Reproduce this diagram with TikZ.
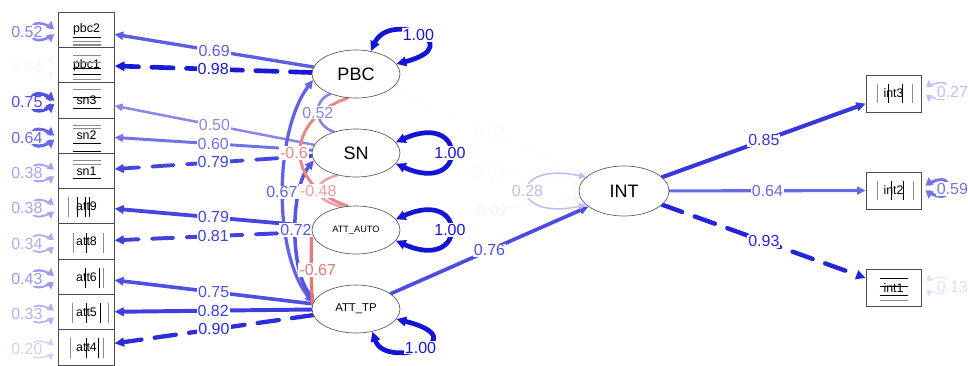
\documentclass[tikz,border=0pt]{standalone}
\usepackage{fontspec}
\setmainfont{Liberation Sans}
\usetikzlibrary{arrows.meta,shapes.geometric}
\pgfdeclarelayer{edges}
\pgfdeclarelayer{labels}
\pgfsetlayers{edges,labels,main}
\definecolor{posbase}{RGB}{20,20,215}
\definecolor{negbase}{RGB}{215,55,55}
\definecolor{thrgray}{RGB}{140,140,140}
\tikzset{
  lat/.style={ellipse, draw=black!65, fill=white, line width=0.5pt,
    minimum width=66pt, minimum height=36pt, inner sep=0pt},
  man/.style={rectangle, draw=black!70, fill=white, line width=0.6pt,
    minimum width=41.6pt, minimum height=26.5pt, inner sep=0pt,
    font=\fontsize{9.3}{9.3}\selectfont},
  pe/.style={draw=posbase!#1!white, line width={#1*0.033pt+0.25pt}, line cap=round},
  ne/.style={draw=negbase!#1!white, line width={#1*0.033pt+0.25pt}, line cap=round},
  onearrow/.style={-{Triangle[length=4.2pt 0.9, width=3.8pt 0.9]}},
  twoarrow/.style={{Triangle[length=4.2pt 0.9, width=3.8pt 0.9]}-{Triangle[length=4.2pt 0.9, width=3.8pt 0.9]}},
  dsh/.style={dash pattern=on 16pt off 10pt},
  pl/.style={text=posbase!#1!white, fill=white, inner sep=0.8pt,
    font=\fontsize{12}{12}\selectfont},
  nl/.style={text=negbase!#1!white, fill=white, inner sep=0.8pt,
    font=\fontsize{12}{12}\selectfont},
  thr/.style={line width=0.7pt},
}
\begin{document}
\begin{tikzpicture}[x=0.75pt, y=-0.75pt]
\useasboundingbox (0,0) rectangle (968,365);

% observed indicators, left column
\node[man] (pbc2) at (86.5,29.7)  {pbc2};
\node[man] (pbc1) at (86.5,65.0)  {pbc1};
\node[man] (sn3)  at (86.5,100.3) {sn3};
\node[man] (sn2)  at (86.5,135.6) {sn2};
\node[man] (sn1)  at (86.5,170.9) {sn1};
\node[man] (att9) at (86.5,206.2) {att9};
\node[man] (att8) at (86.5,241.5) {att8};
\node[man] (att6) at (86.5,276.8) {att6};
\node[man] (att5) at (86.5,312.1) {att5};
\node[man] (att4) at (86.5,347.4) {att4};

% observed indicators, right column
\node[man, minimum width=41.25pt, minimum height=27.75pt] (int3) at (893.5,93.5)  {int3};
\node[man, minimum width=41.25pt, minimum height=27.75pt] (int2) at (893.5,190.5) {int2};
\node[man, minimum width=41.25pt, minimum height=27.75pt] (int1) at (893.5,288)   {int1};

% latent factors
\node[lat, font=\fontsize{13.5}{13.5}\selectfont] (PBC) at (356,74) {PBC};
\node[lat, font=\fontsize{13.5}{13.5}\selectfont] (SN)  at (356,153) {SN};
\node[lat, font=\fontsize{6.9}{6.9}\selectfont] (ATT_AUTO) at (356,230) {ATT\_AUTO};
\node[lat, font=\fontsize{8.5}{8.5}\selectfont] (ATT_TP) at (356,309) {ATT\_TP};
\node[lat, minimum width=67.5pt, minimum height=37.5pt, font=\fontsize{13.5}{13.5}\selectfont] (INT) at (624,191) {INT};

% threshold bars inside the indicator boxes (horizontal)
\foreach \n/\dy/\col in {pbc2/8/black, pbc2/12/thrgray, pbc2/14.3/thrgray, pbc2/16/thrgray,
  pbc1/-10/thrgray, pbc1/-2.3/thrgray, pbc1/3/black, pbc1/9/black, pbc1/14.3/thrgray,
  sn3/-11/thrgray, sn3/-3/black, sn3/8/black,
  sn2/-10.6/thrgray, sn2/-7.3/thrgray, sn2/7.7/black, sn2/15.5/black,
  sn1/-10/thrgray, sn1/-6/thrgray, sn1/8/black,
  int1/-9.7/black, int1/-1.3/black, int1/7/black, int1/12.7/thrgray}
  \draw[thr, \col] ([shift={(-14,\dy)}]\n.center) -- ([shift={(14,\dy)}]\n.center);

% threshold bars inside the indicator boxes (vertical)
\foreach \n/\dx/\col in {att9/-18/thrgray, att9/-9/black, att9/-1.5/black, att9/3/black,
  att8/-13.5/thrgray, att8/-0.5/black, att8/16.5/thrgray,
  att6/-1.5/black, att6/12.5/black, att6/16.8/thrgray,
  att5/-13.8/thrgray, att5/-0.5/black, att5/13.5/black, att5/21.8/thrgray,
  att4/-16.5/thrgray, att4/-0.5/black, att4/11.8/black, att4/16.8/thrgray}
  \draw[thr, \col] ([shift={(\dx,-9)}]\n.center) -- ([shift={(\dx,11)}]\n.center);
\foreach \n/\dx/\col in {int3/-16.5/thrgray, int3/-5.5/black, int3/8.5/black, int3/18.5/thrgray,
  int2/-16.5/thrgray, int2/-2.5/black, int2/9.5/black, int2/19.5/thrgray}
  \draw[thr, \col] ([shift={(\dx,-10)}]\n.center) -- ([shift={(\dx,9)}]\n.center);

\begin{pgfonlayer}{edges}
  % factor loadings
  \draw[pe=69, onearrow]      (PBC) -- coordinate (l1) (pbc2);
  \draw[pe=98, dsh, onearrow] (PBC) -- coordinate (l2) (pbc1);
  \draw[pe=50, onearrow]      (SN) -- coordinate (l3) (sn3);
  \draw[pe=60, onearrow]      (SN) -- coordinate (l4) (sn2);
  \draw[pe=79, dsh, onearrow] (SN) -- coordinate (l5) (sn1);
  \draw[pe=79, onearrow]      (ATT_AUTO) -- coordinate (l6) (att9);
  \draw[pe=81, dsh, onearrow] (ATT_AUTO) -- coordinate (l7) (att8);
  \draw[pe=75, onearrow]      (ATT_TP) -- coordinate (l8) (att6);
  \draw[pe=82, onearrow]      (ATT_TP) -- coordinate (l9) (att5);
  \draw[pe=90, dsh, onearrow] (ATT_TP) -- coordinate (l10) (att4);
  \draw[pe=85, onearrow]      (INT) -- coordinate (l11) (int3);
  \draw[pe=64, onearrow]      (INT) -- coordinate (l12) (int2);
  \draw[pe=93, dsh, onearrow] (INT) -- coordinate (l13) (int1);

  % structural paths
  \draw[pe=2, onearrow]  (PBC) -- coordinate (r1) (INT);
  \draw[pe=3, onearrow]  (SN) -- coordinate (r2) (INT);
  \draw[ne=7, onearrow]  (ATT_AUTO) -- coordinate (r3) (INT);
  \draw[pe=76, onearrow] (ATT_TP) -- coordinate (r4) (INT);

  % factor covariances
  \draw[pe=67, twoarrow] (PBC.188) .. controls (275,130) and (272,250) .. (ATT_TP.172) coordinate[pos=0.5] (k1);
  \draw[pe=72, twoarrow] (SN.190) .. controls (290,190) and (290,270) .. (ATT_TP.168) coordinate[pos=0.5] (k2);
  \draw[pe=52] (PBC.218) .. controls (313,100) and (313,125) .. (SN.136) coordinate[pos=0.5] (k3);
  \draw[ne=60] (PBC.251) .. controls (284,120) and (284,185) .. (ATT_AUTO.109) coordinate[pos=0.5] (k4);
  \draw[ne=48] (SN.230) .. controls (311,182) and (311,200) .. (ATT_AUTO.120) coordinate[pos=0.5] (k5);
  \draw[ne=67] (ATT_AUTO.180) .. controls (311,255) and (311,282) .. (ATT_TP.174) coordinate[pos=0.5] (k6);

  % factor variances
  \draw[pe=100, twoarrow] (PBC.57) .. controls (390,10) and (470,45) .. (PBC.14) coordinate[pos=0.5] (v1);
  \draw[pe=100, twoarrow] (SN.15) .. controls (468,110) and (468,196) .. (SN.-15) coordinate[pos=0.5] (v2);
  \draw[pe=100, twoarrow] (ATT_AUTO.15) .. controls (468,187) and (468,273) .. (ATT_AUTO.-15) coordinate[pos=0.5] (v3);
  \draw[pe=100, twoarrow] (ATT_TP.-54) .. controls (385,370) and (480,340) .. (ATT_TP.-14) coordinate[pos=0.5] (v4);
  \draw[pe=28, twoarrow] (INT.160) .. controls (508,160) and (508,222) .. (INT.200) coordinate[pos=0.5] (v5);
\end{pgfonlayer}

% residual variances of the indicators (left column)
\foreach \n/\v/\t in {pbc2/52/0.52, pbc1/4/0.04, sn3/75/0.75, sn2/64/0.64, sn1/38/0.38,
  att9/38/0.38, att8/34/0.34, att6/43/0.43, att5/33/0.33, att4/20/0.20} {
  \begin{pgfonlayer}{edges}
    \draw[pe=\v, twoarrow] ([shift={(-7,-9)}]\n.west)
      .. controls ([shift={(-8,-3)}]\n.west) and ([shift={(-14,-6.5)}]\n.west) .. ([shift={(-20,-6.5)}]\n.west)
      .. controls ([shift={(-30,-6.5)}]\n.west) and ([shift={(-30,10.5)}]\n.west) .. ([shift={(-20,10.5)}]\n.west)
      .. controls ([shift={(-14,10.5)}]\n.west) and ([shift={(-8,7)}]\n.west) .. ([shift={(-7,13)}]\n.west);
  \end{pgfonlayer}
  \begin{pgfonlayer}{labels}
    \node[pl=\v] at ([shift={(-31.5,2)}]\n.west) {\t};
  \end{pgfonlayer}
}
% residual variances of the indicators (right column)
\foreach \n/\v/\t in {int3/27/0.27, int2/59/0.59, int1/13/0.13} {
  \begin{pgfonlayer}{edges}
    \draw[pe=\v, twoarrow] ([shift={(7,-13.5)}]\n.east)
      .. controls ([shift={(8,-7.5)}]\n.east) and ([shift={(14,-11)}]\n.east) .. ([shift={(20,-11)}]\n.east)
      .. controls ([shift={(30,-11)}]\n.east) and ([shift={(30,6)}]\n.east) .. ([shift={(20,6)}]\n.east)
      .. controls ([shift={(14,6)}]\n.east) and ([shift={(8,2.5)}]\n.east) .. ([shift={(7,8.5)}]\n.east);
  \end{pgfonlayer}
  \begin{pgfonlayer}{labels}
    \node[pl=\v] at ([shift={(31,-1.5)}]\n.east) {\t};
  \end{pgfonlayer}
}

\begin{pgfonlayer}{labels}
  \node[pl=69] at (l1) {0.69};
  \node[pl=98] at (l2) {0.98};
  \node[pl=50] at (l3) {0.50};
  \node[pl=60] at (l4) {0.60};
  \node[pl=79] at (l5) {0.79};
  \node[pl=79] at (l6) {0.79};
  \node[pl=81] at (l7) {0.81};
  \node[pl=75] at (l8) {0.75};
  \node[pl=82] at (l9) {0.82};
  \node[pl=90] at (l10) {0.90};
  \node[pl=85] at (l11) {0.85};
  \node[pl=64] at (l12) {0.64};
  \node[pl=93] at (l13) {0.93};
  \node[pl=2] at (r1) {0.02};
  \node[pl=3] at (r2) {0.03};
  \node[nl=7] at (r3) {-0.07};
  \node[pl=76] at (r4) {0.76};
  \node[pl=67] at ([shift={(-1.5,2)}]k1) {0.67};
  \node[pl=72] at (k2) {0.72};
  \node[pl=52] at (k3) {0.52};
  \node[nl=60] at ([shift={(-6,0.5)}]k4) {-0.6};
  \node[nl=48] at (k5) {-0.48};
  \node[nl=67] at ([shift={(6.5,2)}]k6) {-0.67};
  \node[pl=100] at (v1) {1.00};
  \node[pl=100] at (v2) {1.00};
  \node[pl=100] at (v3) {1.00};
  \node[pl=100] at (v4) {1.00};
  \node[pl=28] at (v5) {0.28};
\end{pgfonlayer}
\end{tikzpicture}
\end{document}
